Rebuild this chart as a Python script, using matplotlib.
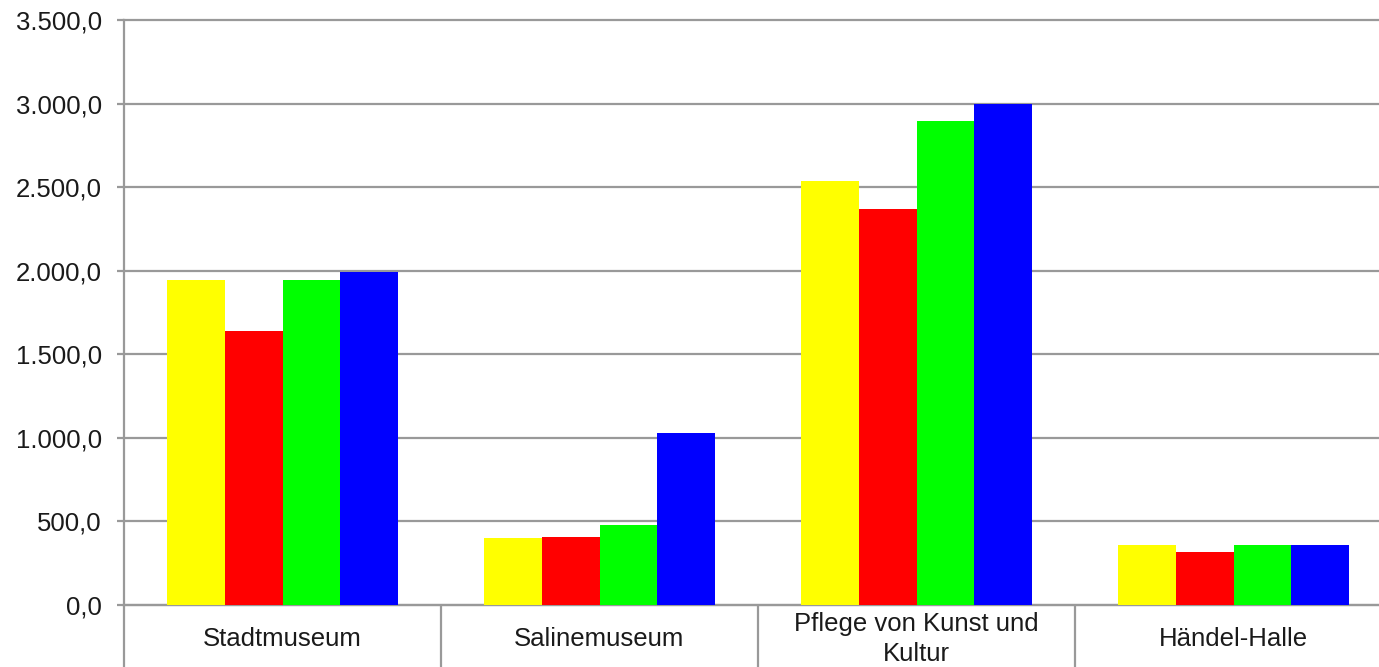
import matplotlib.pyplot as plt
import numpy as np
from matplotlib.ticker import FuncFormatter, FixedLocator

plt.rcParams['font.family'] = ['Liberation Sans', 'DejaVu Sans']

# data
categories = ['Stadtmuseum', 'Salinemuseum', 'Pflege von Kunst und\nKultur', 'Händel-Halle']
series_yellow = [1945, 400, 2535, 360]
series_red = [1640, 407, 2367, 315]
series_green = [1945, 481, 2894, 360]
series_blue = [1992, 1027, 2996, 360]
colors = ['#FFFF00', '#FF0000', '#00FF00', '#0000FF']

GRID = '#999999'
TEXT = '#1a1a1a'


def de_fmt(v, pos):
    s = f'{v:,.1f}'
    return s.replace(',', 'X').replace('.', ',').replace('X', '.')


def main():
    fig = plt.figure(figsize=(13.79, 6.67), dpi=100)
    W, H = 1379, 667
    ax = fig.add_axes([124 / W, (H - 605) / H, (1392 - 124) / W, 585 / H])

    x = np.arange(len(categories))
    bw = 0.1815
    all_series = [series_yellow, series_red, series_green, series_blue]
    for i, (vals, c) in enumerate(zip(all_series, colors)):
        ax.bar(x + (i - 1.5) * bw, vals, width=bw, color=c, linewidth=0, zorder=3)

    ax.set_xlim(-0.5, 3.5)
    ax.set_ylim(0, 3500)
    ax.set_yticks(np.arange(0, 3501, 500))
    ax.yaxis.set_major_formatter(FuncFormatter(de_fmt))
    ax.yaxis.grid(True, color=GRID, linewidth=1.6, zorder=1)
    for gl in ax.get_ygridlines():
        gl.set_clip_on(False)

    # category separators below the axis
    ax.set_xticks([])
    ax.xaxis.set_minor_locator(FixedLocator([-0.5, 0.5, 1.5, 2.5, 3.5]))
    ax.tick_params(axis='x', which='minor', direction='out', length=50,
                   width=1.6, color=GRID)
    ax.tick_params(axis='y', direction='out', length=5, width=1.6, color=GRID,
                   pad=11, labelsize=18.5, labelcolor=TEXT)

    for name in ['top', 'right']:
        ax.spines[name].set_visible(False)
    for name in ['left', 'bottom']:
        ax.spines[name].set_color(GRID)
        ax.spines[name].set_linewidth(1.6)

    for i, cat in enumerate(categories):
        ax.annotate(cat, xy=(i, 0), xycoords=('data', 'axes fraction'),
                    xytext=(0, -24.5), textcoords='offset points',
                    ha='center', va='center', multialignment='center',
                    fontsize=18.5, color=TEXT, linespacing=1.3,
                    annotation_clip=False)

    fig.savefig('out.png', dpi=100)


if __name__ == '__main__':
    main()
